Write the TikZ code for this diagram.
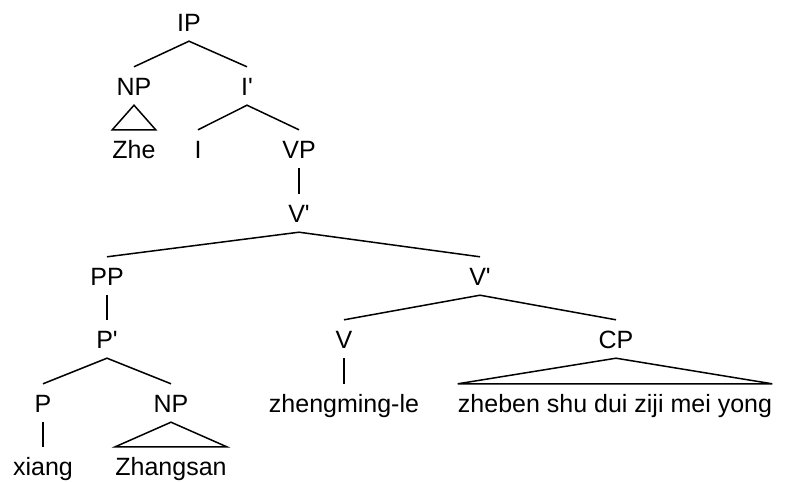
\documentclass[tikz,border=0pt]{standalone}
\usepackage{fontspec}
\setmainfont{Liberation Sans}
\newcommand{\bark}{\textquotesingle}

\begin{document}
\begin{tikzpicture}[x=1pt, y=-1pt,
      cat/.style={anchor=base, inner xsep=0pt, inner ysep=10pt, text height=18pt, text depth=0pt, font=\fontsize{25}{30}\selectfont},
      branch/.style={line width=1.5pt, line join=miter}
    ]
    \useasboundingbox (0,0) rectangle (798,482);

    % Nodes
    \node[cat] (ip) at (189,31) {IP};
    \node[cat] (np) at (134,95) {NP};
    \node[cat] (ibar) at (247,95) {I\bark};
    \node[cat] (zhe) at (134,158) {Zhe};
    \node[cat] (i) at (198,158) {I};
    \node[cat] (vp) at (299,158) {VP};
    \node[cat] (vbar) at (299,222) {V\bark};
    \node[cat] (pp) at (107,285) {PP};
    \node[cat] (vbarb) at (480,285) {V\bark};
    \node[cat] (pbar) at (107,348) {P\bark};
    \node[cat] (v) at (344,348) {V};
    \node[cat] (cp) at (616,348) {CP};
    \node[cat] (p) at (43,412) {P};
    \node[cat] (npb) at (171,412) {NP};
    \node[cat] (verb) at (344,412) {zhengming-le};
    \node[cat] (clause) at (615,412) {zheben shu dui ziji mei yong};
    \node[cat] (prep) at (43,475) {xiang};
    \node[cat] (name) at (171,475) {Zhangsan};

    % Branches
    \draw[branch] (np.north) -- (ip.south) -- (ibar.north);
    \draw[branch] (i.north) -- (ibar.south) -- (vp.north);
    \draw[branch] (vp.south) -- (vbar.north);
    \draw[branch] (pp.north) -- (vbar.south) -- (vbarb.north);
    \draw[branch] (pp.south) -- (pbar.north);
    \draw[branch] (p.north) -- (pbar.south) -- (npb.north);
    \draw[branch] (p.south) -- (prep.north);
    \draw[branch] (v.north) -- (vbarb.south) -- (cp.north);
    \draw[branch] (v.south) -- (verb.north);

    % Triangles
    \draw[branch] (np.south) -- (zhe.north west) -- (zhe.north east) -- cycle;
    \draw[branch] (npb.south) -- (name.north west) -- (name.north east) -- cycle;
    \draw[branch] (cp.south) -- (clause.north west) -- (clause.north east) -- cycle;

    \end{tikzpicture}
\end{document}
